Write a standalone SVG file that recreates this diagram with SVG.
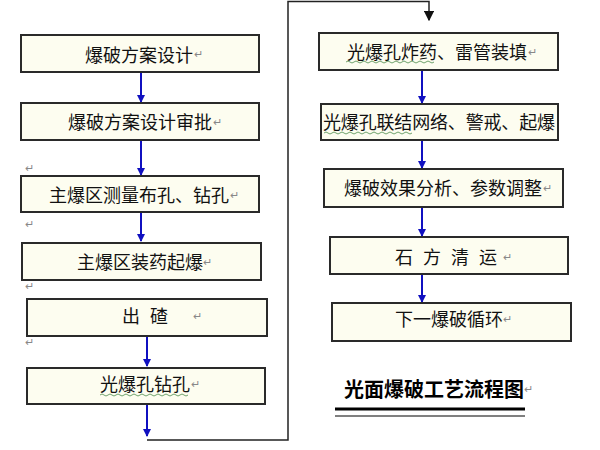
<svg xmlns="http://www.w3.org/2000/svg" width="600" height="450" viewBox="0 0 600 450">
<defs>
<style>
.box{fill:#fdfdf0;stroke:#2a2a2a;stroke-width:2}
.t{font-family:"Noto Sans CJK SC","Liberation Sans",sans-serif;font-size:18px;fill:#111;text-anchor:middle;dominant-baseline:central}
.sp{word-spacing:6px}
.pm{font-family:"Liberation Sans",sans-serif;font-size:11px;fill:#888}
.ba{stroke:#1010c0;stroke-width:2;fill:none;marker-end:url(#ab)}
.bk{stroke:#222;stroke-width:1.5;fill:none}
.wv{stroke:#4a8a4a;stroke-width:0.8;fill:none}
</style>
<marker id="ab" viewBox="0 0 8 8" refX="7" refY="4" markerWidth="4" markerHeight="4" orient="auto" markerUnits="strokeWidth">
<path d="M0,0 L8,4 L0,8 Z" fill="#1010c0"/>
</marker>
<marker id="ak" viewBox="0 0 8 8" refX="7" refY="4" markerWidth="7" markerHeight="7" orient="auto" markerUnits="strokeWidth">
<path d="M0,0 L8,4 L0,8 Z" fill="#111"/>
</marker>
</defs>
<g id="connectors">
<line class="ba" x1="141" y1="72" x2="141" y2="102"/>
<line class="ba" x1="141" y1="140" x2="141" y2="175"/>
<line class="ba" x1="141" y1="212" x2="141" y2="241"/>
<line class="ba" x1="147" y1="336" x2="147" y2="366"/>
<line class="ba" x1="147" y1="404" x2="147" y2="436"/>
<polyline class="bk" points="147,440 288,440 288,1.5 429,1.5 429,20" style="marker-end:url(#ak)"/>
<line class="ba" x1="422" y1="70" x2="422" y2="103"/>
<line class="ba" x1="422" y1="140" x2="422" y2="168"/>
<line class="ba" x1="422" y1="207" x2="422" y2="236"/>
<line class="ba" x1="422" y1="274" x2="422" y2="302"/>
</g>
<g id="n1"><rect class="box" x="21" y="35" width="238" height="37"/><text class="t" x="139" y="54">爆破方案设计</text><text class="pm" x="194" y="58">↵</text></g>
<g id="n2"><rect class="box" x="21" y="103" width="238" height="37"/><text class="t" x="140" y="121">爆破方案设计审批</text><text class="pm" x="213" y="126">↵</text></g>
<text class="pm" x="25" y="172">↵</text>
<g id="n3"><rect class="box" x="21" y="176" width="238" height="36"/><text class="t" x="139" y="194">主爆区测量布孔、钻孔</text><text class="pm" x="230" y="199">↵</text></g>
<text class="pm" x="25" y="228">↵</text>
<g id="n4"><rect class="box" x="22" y="243" width="239" height="37"/><text class="t" x="140" y="261">主爆区装药起爆</text><text class="pm" x="203" y="266">↵</text></g>
<text class="pm" x="25" y="290">↵</text>
<g id="n5"><rect class="box" x="27" y="299" width="240" height="37"/><text class="t sp" x="145" y="315">出 碴</text><text class="pm" x="193" y="320">↵</text></g>
<text class="pm" x="25" y="346">↵</text>
<g id="n6"><rect class="box" x="27" y="368" width="238" height="36"/><text class="t" x="145" y="383">光爆孔钻孔</text><text class="pm" x="191" y="388">↵</text>
<path class="wv" d="M100,395 q2,-2 4,0 t4,0 t4,0 t4,0 t4,0 t4,0 t4,0 t4,0 t4,0 t4,0 t4,0 t4,0 t4,0 t4,0 t4,0 t4,0 t4,0 t4,0 t4,0 t4,0 t4,0 t4,0"/></g>
<g id="r1"><rect class="box" x="319" y="33" width="239" height="37"/><text class="t" x="437" y="51">光爆孔炸药、雷管装填</text><text class="pm" x="528" y="56">↵</text>
<path class="wv" d="M346,62 q2,-2 4,0 t4,0 t4,0 t4,0 t4,0 t4,0 t4,0 t4,0 t4,0 t4,0 t4,0 t4,0 t4,0 t4,0 t4,0 t4,0 t4,0 t4,0 t4,0 t4,0 t4,0 t4,0"/></g>
<g id="r2"><rect class="box" x="321" y="104" width="237" height="36"/><text class="t" x="439" y="121" textLength="232">光爆孔联结网络、警戒、起爆</text>
<path class="wv" d="M324,133 q2,-2 4,0 t4,0 t4,0 t4,0 t4,0 t4,0 t4,0 t4,0 t4,0 t4,0 t4,0 t4,0 t4,0 t4,0 t4,0 t4,0 t4,0 t4,0 t4,0 t4,0 t4,0 t4,0"/></g>
<g id="r3"><rect class="box" x="324" y="169" width="239" height="38"/><text class="t" x="443" y="187">爆破效果分析、参数调整</text><text class="pm" x="543" y="192">↵</text></g>
<g id="r4"><rect class="box" x="330" y="237" width="238" height="37"/><text class="t sp" x="446" y="256">石 方 清 运</text><text class="pm" x="503" y="261">↵</text></g>
<g id="r5"><rect class="box" x="332" y="303" width="239" height="38"/><text class="t" x="449" y="318">下一爆破循环</text><text class="pm" x="503" y="323">↵</text></g>
<g id="title"><text x="434" y="388" style="font-family:'Noto Sans CJK SC','Liberation Sans',sans-serif;font-size:20px;font-weight:bold;fill:#000;text-anchor:middle;dominant-baseline:central">光面爆破工艺流程图</text><text class="pm" x="524" y="393">↵</text>
<line x1="335" y1="409" x2="525" y2="409" stroke="#000" stroke-width="3"/>
<line x1="335" y1="416" x2="525" y2="416" stroke="#000" stroke-width="1"/></g>
</svg>
